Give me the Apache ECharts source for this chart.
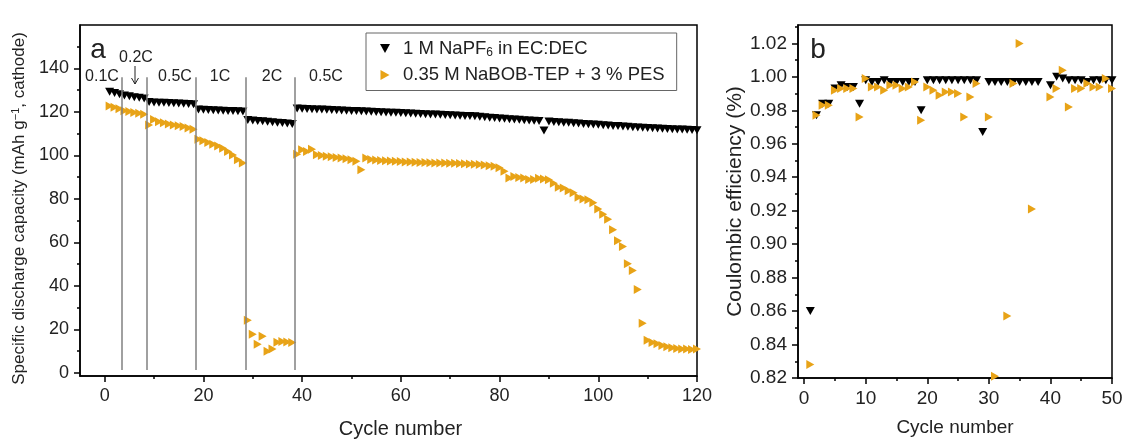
<!DOCTYPE html>
<html>
<head>
<meta charset="utf-8">
<title>Rate capability and coulombic efficiency</title>
<script src="https://cdn.jsdelivr.net/npm/echarts@6/dist/echarts.min.js"></script>
<style>
  html, body { margin: 0; padding: 0; background: #fff; }
  #chart { width: 1126px; height: 444px; }
</style>
</head>
<body>
<div id="chart"></div>
<script>
// 放电容量 (a)，按循环次数 1..120
const capNaPF6 = [
  129.3, 128.7, 128.1,
  127.6, 127.2, 126.8, 126.5, 126.2,
  124.6, 124.4, 124.3, 124.2, 124.1, 124.0, 123.9, 123.8, 123.7, 123.6,
  121.2, 121.0, 120.9, 120.8, 120.7, 120.6, 120.5, 120.4, 120.3, 120.2,
  116.3, 116.1, 115.9, 115.7, 115.5, 115.3, 115.1, 114.9, 114.7, 114.5,
  121.6, 121.5, 121.4, 121.3, 121.2, 121.1, 121.0, 120.9, 120.8, 120.7,
  120.6, 120.5, 120.4, 120.3, 120.2, 120.1, 120.0, 119.9, 119.8, 119.7,
  119.6, 119.5, 119.4, 119.3, 119.2, 119.1, 119.0, 118.9, 118.8, 118.7,
  118.6, 118.5, 118.4, 118.3, 118.2, 118.1, 118.0, 117.8, 117.6, 117.4,
  117.2, 117.0, 116.9, 116.7, 116.5, 116.4, 116.2, 116.1, 116.0, 115.8,
  111.5,
  115.6, 115.4, 115.3, 115.1, 115.0, 114.8, 114.7, 114.5, 114.4, 114.2,
  114.1, 113.9, 113.8, 113.6, 113.5, 113.3, 113.2, 113.0, 112.9, 112.7,
  112.6, 112.5, 112.4, 112.3, 112.2, 112.1, 112.0, 111.9, 111.8, 111.7, 111.6
];
const capNaBOB = [
  122.7, 122.2, 121.5,
  120.6, 120.2, 119.8, 119.4, 119.0,
  114.0, 116.6, 115.5, 115.1, 114.5, 114.0, 113.7, 113.3, 112.6, 112.1,
  107.5, 106.8, 106.0, 105.2, 104.4, 103.3, 101.8, 100.2, 98.0, 96.5,
  24.2, 17.8, 13.2, 16.9, 10.0, 11.0, 14.1, 14.5, 14.2, 14.0,
  100.6, 102.6, 101.8, 102.9, 100.3, 100.0, 99.6, 99.4, 99.1, 98.8, 98.5, 98.0, 97.3, 93.4,
  98.8, 98.2, 97.9, 97.7, 97.6, 97.5, 97.3, 97.2, 97.0, 97.0,
  96.9, 96.8, 96.8, 96.7, 96.6, 96.6, 96.5, 96.4, 96.4, 96.3,
  96.2, 96.1, 96.0, 95.8, 95.6, 95.3, 95.0, 94.4, 92.7,
  89.7, 90.3, 89.9, 89.6, 89.0, 89.0, 89.5, 89.2, 88.8, 87.2,
  85.4, 85.1, 83.8, 82.9, 80.8, 80.0, 79.6, 78.3, 75.4, 73.0,
  70.7, 65.8, 60.8, 58.1, 50.2, 47.1, 38.4,
  22.8, 15.0, 14.0, 13.4, 12.6, 12.0, 11.6, 11.2, 11.0, 11.0, 10.8, 11.0
];
// 库伦效率 (b)，按循环次数 1..50
const ceNaPF6 = [
  0.860, 0.977, 0.984, 0.984, 0.993, 0.995, 0.994, 0.994, 0.984, 0.998,
  0.997, 0.997, 0.998, 0.997, 0.997, 0.997, 0.997, 0.997, 0.980, 0.998,
  0.998, 0.998, 0.998, 0.998, 0.998, 0.998, 0.998, 0.998, 0.967, 0.997,
  0.997, 0.997, 0.997, 0.997, 0.997, 0.997, 0.997, 0.997, null, 0.995,
  1.000, 0.999, 0.998, 0.998, 0.998, 0.997, 0.998, 0.998, 0.998, 0.998
];
const ceNaBOB = [
  0.828, 0.977, 0.983, 0.983, 0.992, 0.993, 0.993, 0.993, 0.976, 0.999,
  0.994, 0.994, 0.992, 0.995, 0.995, 0.993, 0.994, 0.997, 0.974, 0.994,
  0.992, 0.989, 0.991, 0.991, 0.990, 0.976, 0.988, 0.996, null, 0.976,
  0.821, null, 0.857, 0.996, 1.020, null, 0.921, null, null, 0.988,
  0.993, 1.004, 0.982, 0.993, 0.993, 0.996, 0.994, 0.994, 0.999, 0.993
];
// 倍率分段的竖线位置
const rateBreaks = [3.5, 8.5, 18.5, 28.5, 38.5];
// 刻度
const capTicks = [0, 20, 40, 60, 80, 100, 120, 140];
const capMinor = [10, 30, 50, 70, 90, 110, 130, 150];
const cycleTicksA = [0, 20, 40, 60, 80, 100, 120];
const cycleMinorA = [10, 30, 50, 70, 90, 110];
const ceTicks = [0.82, 0.84, 0.86, 0.88, 0.90, 0.92, 0.94, 0.96, 0.98, 1.00, 1.02];
const ceMinor = [0.83, 0.85, 0.87, 0.89, 0.91, 0.93, 0.95, 0.97, 0.99, 1.01, 1.03];
const cycleTicksB = [0, 10, 20, 30, 40, 50];
const cycleMinorB = [5, 15, 25, 35, 45];

const FONT = "'Liberation Sans', Arial, sans-serif";
const ORANGE = "#E8A317";
const DOWN = "path://M0,0 L10,0 L5,9 Z";
const RIGHT = "path://M0,0 L9,5 L0,10 Z";

function pairs(arr) {
  return arr.map((v, i) => [i + 1, v]);
}

// 主刻度轴
function majorAxis(gridIndex, pos, min, max, ticks, fmt, size, extra) {
  return Object.assign({
    type: "value",
    gridIndex: gridIndex,
    position: pos,
    min: min,
    max: max,
    splitLine: { show: false },
    axisLine: { show: true, onZero: false, lineStyle: { color: "#000", width: 1.5 } },
    axisTick: { show: true, length: 6, customValues: ticks, lineStyle: { color: "#000", width: 1.5 } },
    axisLabel: {
      customValues: ticks,
      color: "#222",
      fontFamily: FONT,
      fontSize: size,
      margin: 11,
      formatter: fmt,
    },
  }, extra || {});
}
// 次刻度轴（只画短刻度）
function minorAxis(gridIndex, pos, min, max, ticks) {
  return {
    type: "value",
    gridIndex: gridIndex,
    position: pos,
    offset: 0,
    min: min,
    max: max,
    splitLine: { show: false },
    axisLine: { show: false, onZero: false },
    axisLabel: { show: false },
    axisTick: { show: true, length: 3, customValues: ticks, lineStyle: { color: "#000", width: 1.5 } },
  };
}

let chart = echarts.init(document.getElementById("chart"), null, { renderer: "canvas" });

let option = {
  animation: false,
  backgroundColor: "#fff",
  grid: [
    { left: 80, top: 25, width: 617, height: 353, show: true, borderColor: "#000", borderWidth: 1.5, backgroundColor: "transparent" },
    { left: 798, top: 25, width: 314, height: 353, show: true, borderColor: "#000", borderWidth: 1.5, backgroundColor: "transparent" },
  ],
  xAxis: [
    majorAxis(0, "bottom", -5, 120, cycleTicksA, (v) => v, 18, {
      name: "Cycle number", nameLocation: "middle", nameGap: 43,
      nameTextStyle: { color: "#222", fontFamily: FONT, fontSize: 20, padding: [0, 0, 0, 24] },
    }),
    minorAxis(0, "bottom", -5, 120, cycleMinorA),
    majorAxis(1, "bottom", -1, 50, cycleTicksB, (v) => v, 19, {
      name: "Cycle number", nameLocation: "middle", nameGap: 40,
      nameTextStyle: { color: "#222", fontFamily: FONT, fontSize: 19 },
    }),
    minorAxis(1, "bottom", -1, 50, cycleMinorB),
  ],
  yAxis: [
    majorAxis(0, "left", -1.4, 160, capTicks, (v) => v, 18, {
      name: "{t|Specific discharge capacity (mAh g}{p|\u22121}{t|, cathode)}",
      nameLocation: "middle",
      nameGap: 45,
      nameTextStyle: {
        color: "#222",
        fontFamily: FONT,
        padding: [0, 16, 0, 0],
        rich: {
          t: { fontFamily: FONT, fontSize: 17, color: "#222" },
          p: { fontFamily: FONT, fontSize: 11, color: "#222", padding: [0, 0, 8, 0] },
        },
      },
    }),
    minorAxis(0, "left", -1.4, 160, capMinor),
    majorAxis(1, "left", 0.82, 1.031, ceTicks, (v) => v.toFixed(2), 19, {
      name: "Coulombic efficiency (%)",
      nameLocation: "middle",
      nameGap: 50,
      nameTextStyle: { color: "#222", fontFamily: FONT, fontSize: 21 },
    }),
    minorAxis(1, "left", 0.82, 1.031, ceMinor),
  ],
  legend: {
    data: ["NaPF6", "NaBOB"],
    orient: "vertical",
    left: 366,
    top: 33,
    padding: [6, 12, 6, 14],
    itemGap: 7,
    itemWidth: 10,
    itemHeight: 10,
    borderColor: "#666",
    borderWidth: 1,
    formatter: function (name) {
      if (name === "NaPF6") return "{t|1 M NaPF}{s|6}{t| in EC:DEC}";
      return "{t|0.35 M NaBOB-TEP + 3 % PES}";
    },
    textStyle: {
      color: "#222",
      fontFamily: FONT,
      fontSize: 18.5,
      padding: [0, 0, 0, 8],
      rich: {
        t: { fontFamily: FONT, fontSize: 18.5, color: "#222" },
        s: { fontFamily: FONT, fontSize: 12, color: "#222", padding: [8, 0, 0, 0] },
      },
    },
  },
  graphic: [
    { type: "text", x: 98, y: 50, style: { text: "a", font: "28px " + FONT, fill: "#222", align: "center", verticalAlign: "middle" } },
    { type: "text", x: 818, y: 50, style: { text: "b", font: "28px " + FONT, fill: "#222", align: "center", verticalAlign: "middle" } },
    { type: "text", x: 102, y: 77, style: { text: "0.1C", font: "16px " + FONT, fill: "#222", align: "center", verticalAlign: "middle" } },
    { type: "text", x: 136, y: 58, style: { text: "0.2C", font: "16px " + FONT, fill: "#222", align: "center", verticalAlign: "middle" } },
    { type: "text", x: 175, y: 77, style: { text: "0.5C", font: "16px " + FONT, fill: "#222", align: "center", verticalAlign: "middle" } },
    { type: "text", x: 220, y: 77, style: { text: "1C", font: "16px " + FONT, fill: "#222", align: "center", verticalAlign: "middle" } },
    { type: "text", x: 272, y: 77, style: { text: "2C", font: "16px " + FONT, fill: "#222", align: "center", verticalAlign: "middle" } },
    { type: "text", x: 326, y: 77, style: { text: "0.5C", font: "16px " + FONT, fill: "#222", align: "center", verticalAlign: "middle" } },
    // 0.2C 的箭头
    { type: "line", shape: { x1: 135, y1: 66, x2: 135, y2: 84 }, style: { stroke: "#222", lineWidth: 1 } },
    { type: "polyline", shape: { points: [[131.5, 78], [135, 84], [138.5, 78]] }, style: { stroke: "#222", lineWidth: 1, fill: null } },
  ],
  series: [
    {
      name: "NaPF6",
      type: "scatter",
      xAxisIndex: 0,
      yAxisIndex: 0,
      symbol: DOWN,
      symbolSize: [9, 8],
      itemStyle: { color: "#000", opacity: 1 },
      data: pairs(capNaPF6),
      markLine: {
        silent: true,
        symbol: "none",
        label: { show: false },
        lineStyle: { color: "#808080", width: 1.5, type: "solid" },
        data: rateBreaks.map((x) => [{ coord: [x, 1.4] }, { coord: [x, 136] }]),
      },
      z: 3,
    },
    {
      name: "NaBOB",
      type: "scatter",
      xAxisIndex: 0,
      yAxisIndex: 0,
      symbol: RIGHT,
      symbolSize: [8, 9],
      itemStyle: { color: ORANGE, opacity: 1 },
      data: pairs(capNaBOB),
      z: 4,
    },
    {
      name: "NaPF6",
      type: "scatter",
      xAxisIndex: 2,
      yAxisIndex: 2,
      symbol: DOWN,
      symbolSize: [9, 8],
      itemStyle: { color: "#000", opacity: 1 },
      data: pairs(ceNaPF6),
      z: 3,
    },
    {
      name: "NaBOB",
      type: "scatter",
      xAxisIndex: 2,
      yAxisIndex: 2,
      symbol: RIGHT,
      symbolSize: [8, 9],
      itemStyle: { color: ORANGE, opacity: 1 },
      data: pairs(ceNaBOB),
      clip: false,
      z: 4,
    },
  ],
};

chart.setOption(option);
</script>
</body>
</html>
